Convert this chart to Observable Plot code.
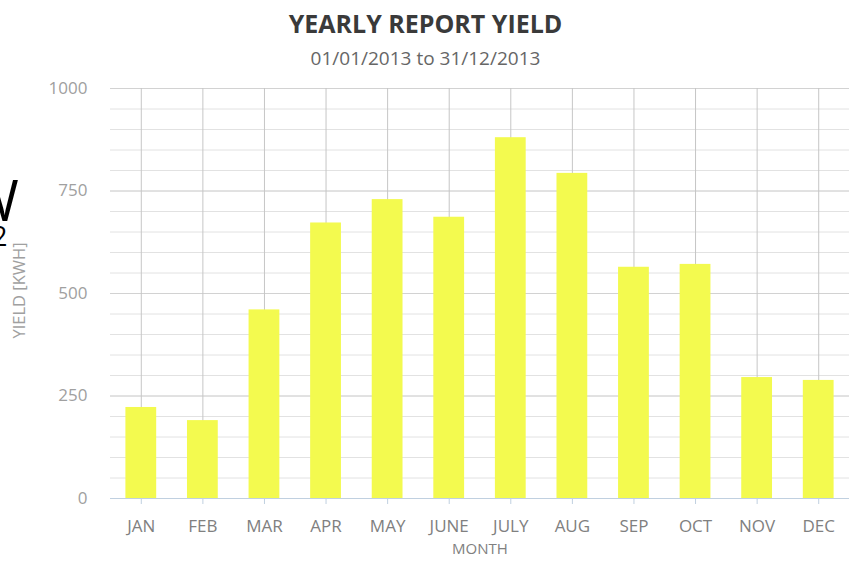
<!DOCTYPE html>
<html>
<head>
<meta charset="utf-8">
<script src="https://cdn.jsdelivr.net/npm/d3@7"></script>
<script src="https://cdn.jsdelivr.net/npm/@observablehq/plot@0.6"></script>
<style>
  html, body { margin: 0; padding: 0; background: #fff; }
  body { width: 851px; height: 561px; overflow: hidden; position: relative; font-family: "Open Sans", sans-serif; }
  #header { height: 75px; position: relative; }
  #title { position: absolute; top: 6px; left: 0; width: 851px; text-align: center; font-weight: bold; font-size: 25px; line-height: normal; color: #3a3a3a; }
  #subtitle { position: absolute; top: 45px; left: 0; width: 851px; text-align: center; font-size: 19px; line-height: normal; color: #666; }
  .frag { position: absolute; color: #000; font-family: "Open Sans", sans-serif; line-height: 0.8; }
  #chart svg { display: block; }
</style>
</head>
<body>
<div id="header">
  <div id="title">YEARLY REPORT YIELD</div>
  <div id="subtitle">01/01/2013 to 31/12/2013</div>
</div>
<div class="frag" id="fragW" style="left:-33px; top:177px; font-size:56px;">W</div>
<div class="frag" id="frag2" style="left:-8px; top:225px; font-size:27px;">2</div>
<div id="chart"></div>
<script>
const months = ["JAN", "FEB", "MAR", "APR", "MAY", "JUNE", "JULY", "AUG", "SEP", "OCT", "NOV", "DEC"];
const yieldKwh = [222, 190, 460, 672, 729, 686, 880, 793, 564, 571, 295, 288];
const yTicks = [0, 250, 500, 750, 1000];
const minorTicks = d3.range(0, 1001, 50);

const data = months.map((m, i) => ({month: m, value: yieldKwh[i]}));

const chart = Plot.plot({
  width: 851,
  height: 486,
  marginLeft: 110,
  marginRight: 2,
  marginTop: 13,
  marginBottom: 63,
  style: {fontFamily: "Open Sans, sans-serif", background: "#fff"},
  x: {type: "band", domain: months, paddingInner: 0.5, paddingOuter: 0.25, round: false, label: null},
  y: {domain: [0, 1000], label: null},
  marks: [
    Plot.ruleY(minorTicks, {stroke: "#e2e2e2", strokeWidth: 1}),
    Plot.ruleY(yTicks, {stroke: "#d2d2d2", strokeWidth: 1}),
    Plot.ruleX(months, {x: d => d, y1: 0, y2: 1000, stroke: "#c6c6c6", strokeWidth: 1}),
    Plot.barY(data, {x: "month", y: "value", fill: "#f3fa4f"}),
    Plot.ruleY([0], {stroke: "#c0d0e0", strokeWidth: 1}),
    Plot.axisX({tickSize: 6, tickPadding: 15, stroke: "#c0d0e0", fill: "#808080", fontSize: 17}),
    Plot.axisY({ticks: yTicks, tickFormat: d => String(d), tickSize: 0, tickPadding: 23, fill: "#a0a0a0", fontSize: 17}),
    Plot.text(["YIELD [KWH]"], {frameAnchor: "left", textAnchor: "middle", dx: -91, dy: -3, rotate: -90, fill: "#a0a0a0", fontSize: 16.5}),
    Plot.text(["MONTH"], {frameAnchor: "bottom", dy: 55, fill: "#808080", fontSize: 15})
  ]
});
document.getElementById("chart").appendChild(chart);
</script>
</body>
</html>
